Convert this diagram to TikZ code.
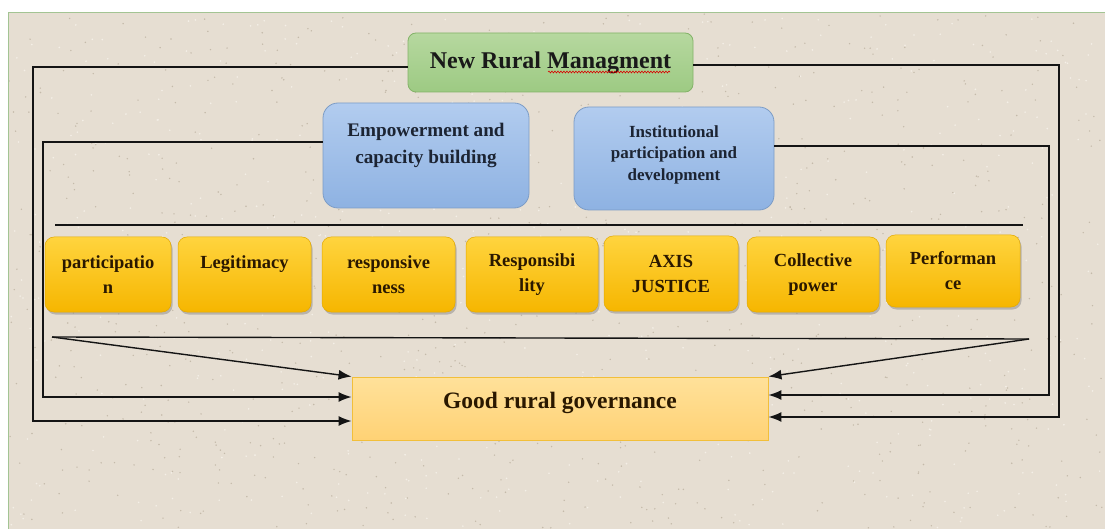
\documentclass[tikz,border=0pt]{standalone}
\usepackage{fontspec}
\setmainfont{Liberation Serif}
\usetikzlibrary{arrows.meta,shadows,decorations.pathmorphing}
\definecolor{paper}{HTML}{E6DED2}
\definecolor{paperEdge}{HTML}{A3C493}
\definecolor{speckD}{HTML}{C4BAAA}
\definecolor{speckL}{HTML}{F4EFE7}
\definecolor{yTop}{HTML}{FFD43E}
\definecolor{yBot}{HTML}{F6B600}
\definecolor{yBorder}{HTML}{E3A900}
\definecolor{yText}{HTML}{2A1800}
\definecolor{gTop}{HTML}{B6D89F}
\definecolor{gBot}{HTML}{9DCA83}
\definecolor{gBorder}{HTML}{83B368}
\definecolor{bTop}{HTML}{B2CCEF}
\definecolor{bBot}{HTML}{8EB2E2}
\definecolor{bBorder}{HTML}{7C9CC6}
\definecolor{bText}{HTML}{1C2433}
\definecolor{oTop}{HTML}{FFE19A}
\definecolor{oBot}{HTML}{FFD275}
\definecolor{oBorder}{HTML}{F2BF3A}
\begin{document}
\begin{tikzpicture}[x=1pt,y=-1pt,
  conn/.style={line width=1.4pt, draw=black!92},
  arr/.style={conn, -{Latex[length=13pt,width=10pt]}},
  ybox/.style={rounded corners=9pt, top color=yTop, bottom color=yBot, draw=yBorder,
    line width=0.5pt, drop shadow={opacity=0.45, shadow xshift=1.5pt, shadow yshift=-2.5pt},
    minimum height=75pt, inner sep=0pt, align=center, text=yText,
    font=\bfseries\fontsize{18.5}{25}\selectfont},
  ytext/.style={align=center, text=yText, inner sep=0pt, font=\bfseries\fontsize{18.5}{25}\selectfont},
  gbox/.style={rounded corners=8pt, top color=gTop, bottom color=gBot, draw=gBorder,
    line width=0.8pt, minimum width=285pt, minimum height=59pt, inner sep=0pt,
    text=black!90, font=\bfseries\fontsize{24}{28}\selectfont},
  bbox/.style={rounded corners=15pt, top color=bTop, bottom color=bBot, draw=bBorder,
    line width=0.8pt, inner sep=0pt},
  btext/.style={align=center, text=bText, inner sep=0pt},
  obox/.style={top color=oTop, bottom color=oBot, draw=oBorder, line width=0.9pt,
    minimum width=416pt, minimum height=63pt, inner sep=0pt},
  otext/.style={text=yText, inner sep=0pt, font=\bfseries\fontsize{23.5}{27}\selectfont}
]
\useasboundingbox (0,0) rectangle (1105,529);
% paper background
\fill[white] (0,0) rectangle (1105,529);
\fill[paper] (8,13) rectangle (1106,530);
\pgfmathsetseed{7}
\foreach \i in {1,...,900}{
  \pgfmathsetmacro\px{9+rnd*1095}
  \pgfmathsetmacro\py{14+rnd*514}
  \fill[speckD] (\px,\py) circle (0.8pt);
}
\foreach \i in {1,...,600}{
  \pgfmathsetmacro\px{9+rnd*1095}
  \pgfmathsetmacro\py{14+rnd*514}
  \fill[speckL] (\px,\py) circle (0.9pt);
}
\draw[paperEdge, line width=1pt] (1106,13) -- (8,13) -- (8,530);

% top nodes
\node[gbox] (nrm) at (550.5,62.5) {New Rural Managment};
\draw[red!85!black, line width=0.6pt, decorate,
  decoration={snake, amplitude=0.9pt, segment length=3pt}] (548,72) -- (670,72);

\node[bbox, minimum width=206pt, minimum height=105pt] (emp) at (426,155.5) {};
\node[btext, font=\bfseries\fontsize{19.2}{27}\selectfont] (empT) at ([yshift=10pt]emp.center)
  {Empowerment and\\capacity building};
\node[bbox, minimum width=200pt, minimum height=103pt] (ins) at (674,158.5) {};
\node[btext, font=\bfseries\fontsize{17}{21.5}\selectfont] (insT) at ([yshift=4pt]ins.center)
  {Institutional\\participation and\\development};

% indicator boxes
\node[ybox, minimum width=126pt] (y1) at (108,274.5) {participatio\\n};
\node[ybox, minimum width=133pt] (y2) at (244.5,274.5) {};
\node[ytext] (y2T) at ([yshift=10pt]y2.center) {Legitimacy};
\node[ybox, minimum width=133pt] (y3) at (388.5,274.5) {responsive\\ness};
\node[ybox, minimum width=132pt] (y4) at (532,274.5) {Responsibi\\lity};
\node[ybox, minimum width=134pt] (y5) at (671,273.5) {AXIS\\JUSTICE};
\node[ybox, minimum width=132pt] (y6) at (813,274.5) {Collective\\power};
\node[ybox, minimum width=134pt, minimum height=72pt] (y7) at (953,271) {Performan\\ce};

% target
\node[obox] (good) at (560,408.5) {};
\node[otext] (goodT) at ([yshift=6pt]good.center) {Good rural governance};

% bars
\coordinate (tbL) at (55,225);
\coordinate (tbR) at (1023,225);
\coordinate (bbL) at (52,337);
\coordinate (bbR) at (1029,339);
\draw[conn] (tbL) -- (tbR);
\draw[conn] (bbL) -- (bbR);
\draw[arr] (bbL) -- (good.north west);
\draw[arr] (bbR) -- (good.north east);

% side connectors
\draw[arr] ([yshift=-4.5pt]nrm.west) -| (33,421) -- (good.west |- 0,421);
\draw[arr] ([yshift=13.5pt]emp.west) -| (43,397) -- (good.west |- 0,397);
\draw[arr] ([yshift=12.5pt]ins.east) -| (1049,395) -- (good.east |- 0,395);
\draw[arr] ([yshift=-2.5pt]nrm.east) -| (1059,417) -- (good.east |- 0,417);
\end{tikzpicture}
\end{document}
